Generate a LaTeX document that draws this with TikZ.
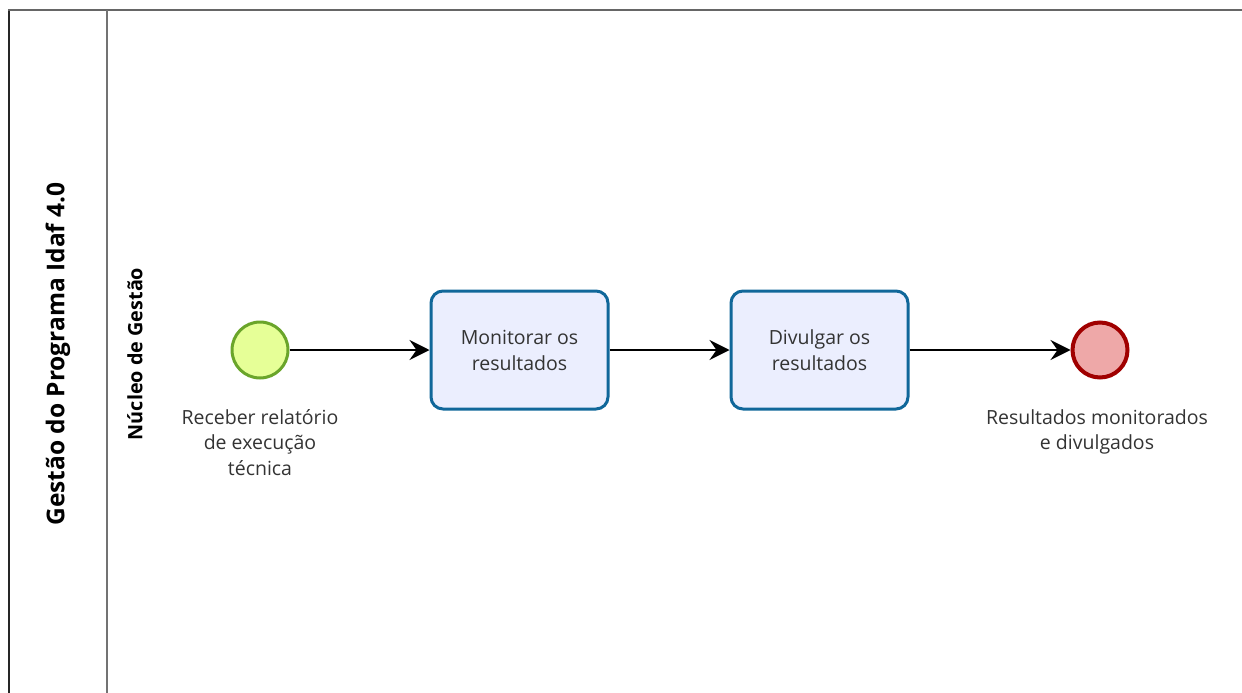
\documentclass[tikz,border=0pt]{standalone}
\usepackage{fontspec}
\setmainfont{Open Sans}
\usetikzlibrary{arrows.meta}
\definecolor{startfill}{HTML}{E6FF97}
\definecolor{startline}{HTML}{6AA52A}
\definecolor{endfill}{HTML}{EEA8A8}
\definecolor{endline}{HTML}{A00000}
\definecolor{taskfill}{HTML}{EBEEFE}
\definecolor{taskline}{HTML}{10679A}
\definecolor{txt}{HTML}{333333}
\begin{document}
\begin{tikzpicture}[x=1pt,y=-1pt,
  taskbox/.style={draw=taskline,fill=taskfill,line width=3pt,rounded corners=12pt,
    minimum width=177pt,minimum height=118pt,align=center,text=txt,font=\fontsize{19.5}{26}\selectfont},
  startev/.style={circle,draw=startline,fill=startfill,line width=3pt,minimum size=56pt,inner sep=0pt},
  endev/.style={circle,draw=endline,fill=endfill,line width=4pt,minimum size=55pt,inner sep=0pt},
  lbl/.style={align=center,text=txt,font=\fontsize{19.5}{25.5}\selectfont},
  flow/.style={line width=2pt,-{Stealth[length=20pt,width=20pt,inset=7pt]}},
  lanetitle/.style={rotate=90,font=\bfseries,text=black}]
\useasboundingbox (0,0) rectangle (1242,693);
\draw[line width=2pt,color=black!85] (9,693) -- (9,10);
\draw[line width=2pt,color=black!60] (8,10) -- (1242,10);
\draw[line width=2pt,color=black!55] (107,10) -- (107,693);
\node[lanetitle,font=\fontsize{24.5}{28}\bfseries\selectfont] (pool) at (58,354) {Gestão do Programa Idaf 4.0};
\node[lanetitle,font=\fontsize{19.8}{22}\bfseries\selectfont] (lane) at (135,354) {Núcleo de Gestão};
\node[startev] (s) at (260,350) {};
\node[taskbox] (t1) at (519.5,350) {Monitorar os\\resultados};
\node[taskbox] (t2) at (819.5,350) {Divulgar os\\resultados};
\node[endev] (e) at (1100,350) {};
\node[lbl,anchor=north] (sl) at (260,406) {Receber relatório\\de execução\\técnica};
\node[lbl,anchor=north] (el) at (1097,406) {Resultados monitorados\\e divulgados};
\draw[flow] (s) -- (t1);
\draw[flow] (t1) -- (t2);
\draw[flow] (t2) -- (e);
\end{tikzpicture}
\end{document}
